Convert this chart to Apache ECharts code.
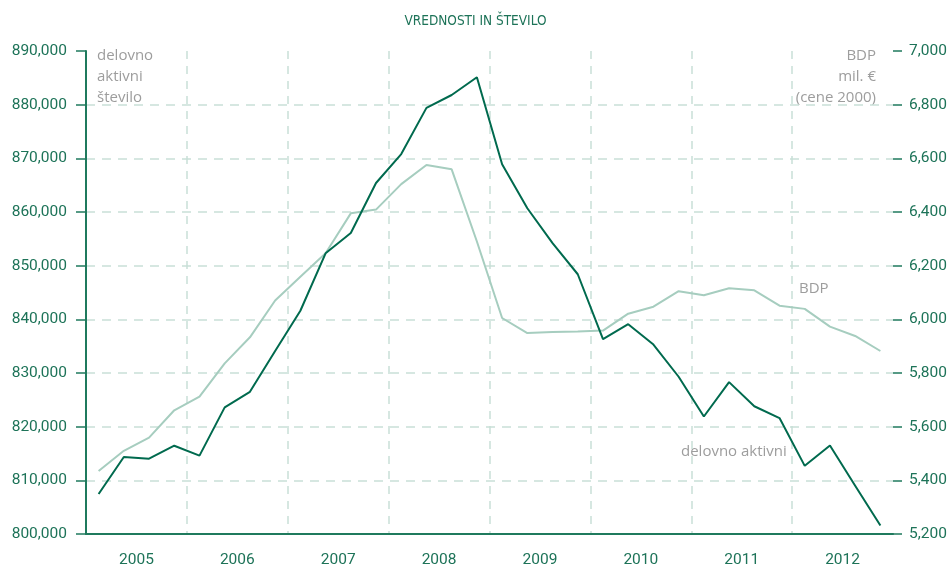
<!DOCTYPE html>
<html>
<head>
<meta charset="utf-8">
<script src="https://cdn.jsdelivr.net/npm/echarts@6/dist/echarts.min.js"></script>
<style>
  html, body { margin: 0; padding: 0; background: #fff; }
  #chart { width: 951px; height: 571px; }
</style>
</head>
<body>
<div id="chart"></div>
<script>
const years = ['2005', '2006', '2007', '2008', '2009', '2010', '2011', '2012'];
const quarters = ['Q1', 'Q2', 'Q3', 'Q4'];

// delovno aktivni (stevilo), quarterly 2005-2012
const aktivni = [
    807450, 814350, 814030, 816450,
    814600, 823600, 826500, 834100,
    841600, 852300, 856100, 865400,
    870800, 879400, 881800, 885100,
    868900, 860700, 854200, 848400,
    836300, 839100, 835300, 829300,
    821900, 828300, 823800, 821600,
    812700, 816500, 809000, 801600
];

// BDP, mil. EUR (cene 2000)
const bdp = [
    5435, 5510, 5559, 5661,
    5712, 5836, 5933, 6070,
    6159, 6246, 6395, 6409,
    6504, 6575, 6559, 6290,
    6005, 5949, 5953, 5955,
    5958, 6021, 6047, 6105,
    6090, 6116, 6108, 6051,
    6039, 5973, 5938, 5882
];

const leftTicks = [800000, 890000, 10000];
const rightTicks = [5200, 7000, 200];

const dark = '#006a4e';
const light = '#a6cdbf';
const axisGreen = '#1f7a5d';
const labelGreen = '#1d7358';
const gridColor = '#c9dfd7';
const grey = '#9d9d9d';
const tickFont = 'Roboto';

const quarterLabels = [];
years.forEach(y => quarters.forEach(q => quarterLabels.push(q + ' ' + y)));

const fmt = v => v.toLocaleString('en-US');

echarts.init(document.querySelector('#chart')).setOption({
    animation: false,
    grid: { left: 86, right: 58, top: 51, bottom: 37 },
    title: {
        text: 'VREDNOSTI IN ŠTEVILO',
        left: 'center',
        top: 9,
        textStyle: { fontFamily: '"DejaVu Sans Condensed", "DejaVu Sans", sans-serif', fontSize: 13.5, fontWeight: 'normal', color: labelGreen }
    },
    xAxis: [{
        type: 'category',
        data: quarterLabels,
        boundaryGap: true,
        axisLine: { lineStyle: { color: axisGreen, width: 2 } },
        axisTick: { length: 5, interval: 0, lineStyle: { color: axisGreen, width: 1.5 } },
        axisLabel: { show: false },
        splitLine: { show: false }
    }, {
        type: 'category',
        data: years,
        position: 'bottom',
        boundaryGap: true,
        axisLine: { show: false },
        axisTick: { length: 11, interval: 0, lineStyle: { color: axisGreen, width: 1.5 } },
        axisLabel: { margin: 18, color: labelGreen, fontFamily: tickFont, fontSize: 15.5 },
        splitLine: {
            show: true, showMinLine: false, showMaxLine: false,
            lineStyle: { color: gridColor, type: [8, 7], width: 1.5 }
        }
    }],
    yAxis: [{
        type: 'value',
        min: leftTicks[0], max: leftTicks[1], interval: leftTicks[2],
        axisLine: { show: true, lineStyle: { color: axisGreen, width: 2 } },
        axisTick: { show: true, length: 10, lineStyle: { color: axisGreen, width: 1.5 } },
        axisLabel: { margin: 19, color: labelGreen, fontFamily: tickFont, fontSize: 15.5, formatter: fmt },
        splitLine: {
            show: true, showMaxLine: false,
            lineStyle: { color: gridColor, type: [9, 7], width: 1.5 }
        }
    }, {
        type: 'value',
        position: 'right',
        min: rightTicks[0], max: rightTicks[1], interval: rightTicks[2],
        axisLine: { show: false },
        axisTick: { show: true, length: 9, lineStyle: { color: axisGreen, width: 1.5 } },
        axisLabel: { margin: 16, color: labelGreen, fontFamily: tickFont, fontSize: 15.5, formatter: fmt },
        splitLine: { show: false }
    }],
    series: [{
        name: 'BDP',
        type: 'line',
        data: bdp,
        xAxisIndex: 0,
        yAxisIndex: 1,
        showSymbol: false,
        lineStyle: { color: light, width: 2 },
        itemStyle: { color: light }
    }, {
        name: 'delovno aktivni',
        type: 'line',
        data: aktivni,
        xAxisIndex: 0,
        yAxisIndex: 0,
        showSymbol: false,
        lineStyle: { color: dark, width: 2 },
        itemStyle: { color: dark }
    }],
    graphic: [{
        type: 'text', x: 97, y: 45,
        style: { text: 'delovno\naktivni\nštevilo', fill: grey, font: '15px "Open Sans"', lineHeight: 21 }
    }, {
        type: 'text', x: 876, y: 45,
        style: { text: 'BDP\nmil. €\n(cene 2000)', fill: grey, font: '15px "Open Sans"', lineHeight: 21, align: 'right' }
    }, {
        type: 'text', x: 799, y: 281,
        style: { text: 'BDP', fill: grey, font: '15px "Open Sans"' }
    }, {
        type: 'text', x: 681, y: 444,
        style: { text: 'delovno aktivni', fill: grey, font: '15px "Open Sans"' }
    }]
});
</script>
</body>
</html>
